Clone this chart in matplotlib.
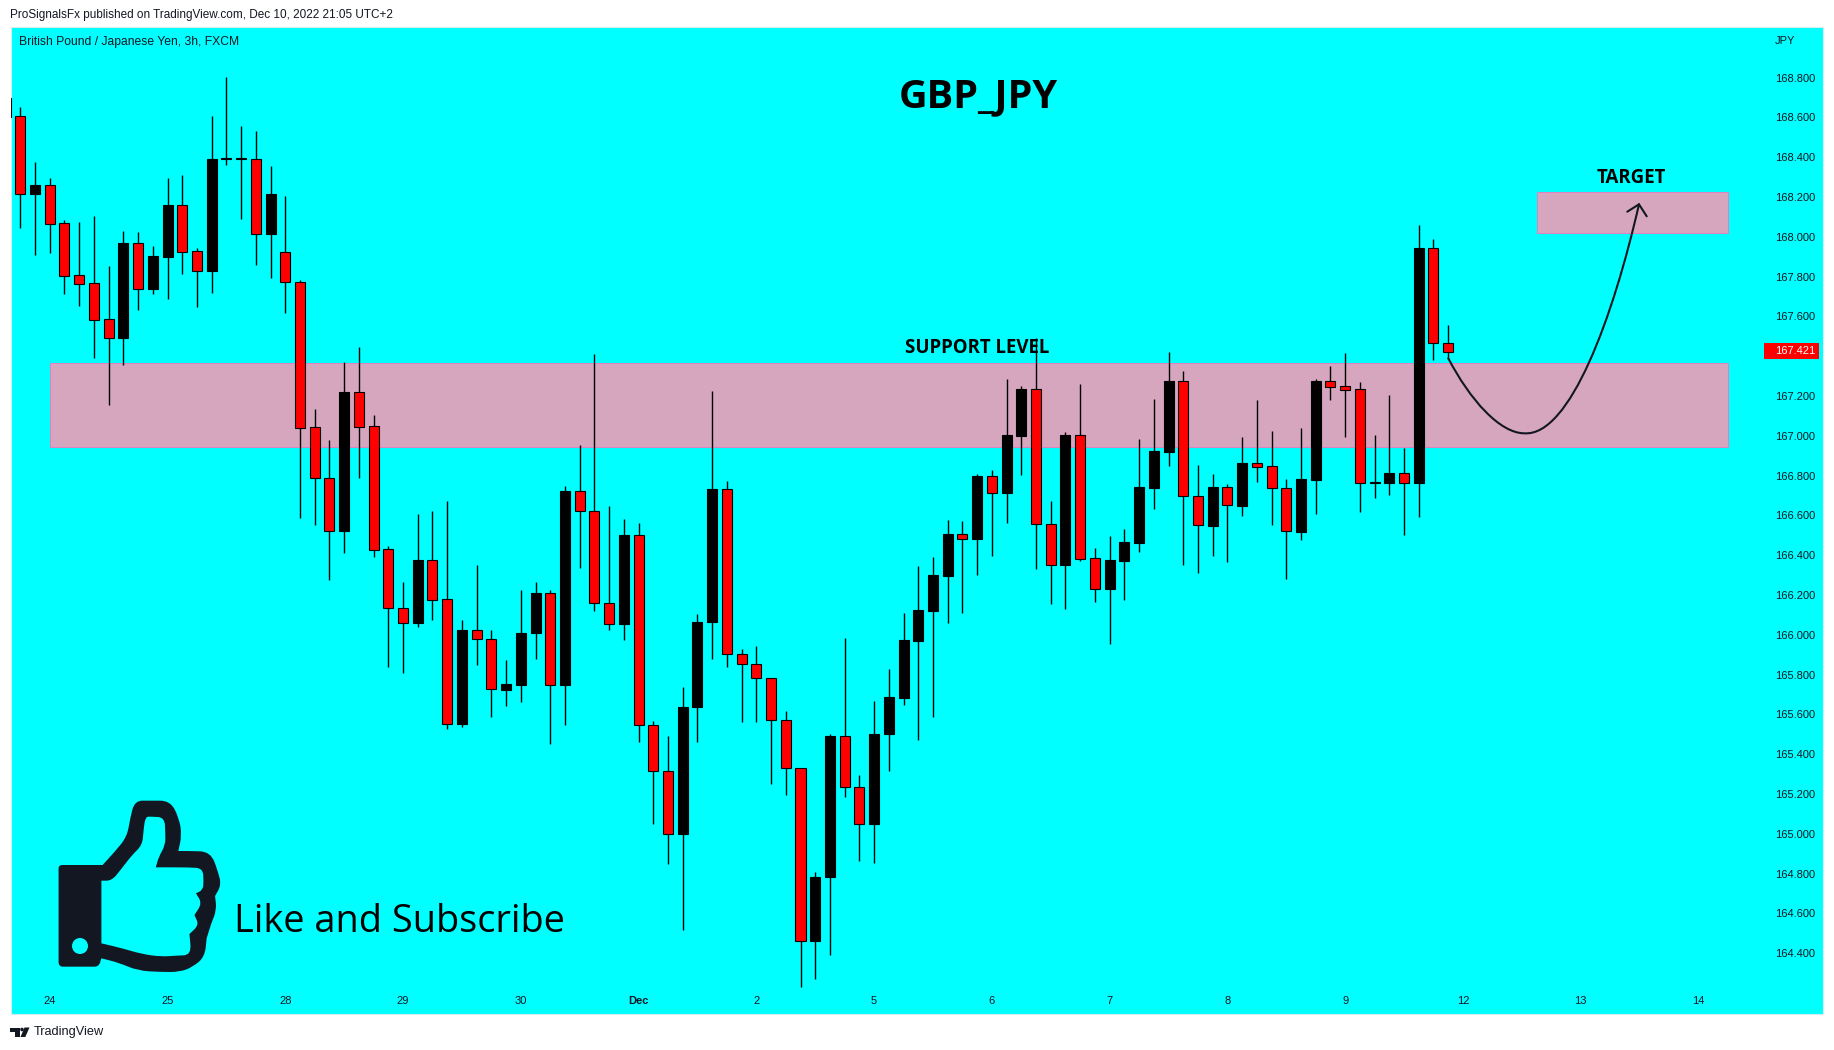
import numpy as np
import matplotlib
matplotlib.use("Agg")
import matplotlib.pyplot as plt
from matplotlib.patches import PathPatch, Ellipse, Polygon, Rectangle
from matplotlib.path import Path
from matplotlib.transforms import Affine2D

W, H = 1834, 1050

# velas de 3h
opens = [168.695, 168.605, 168.216, 168.258, 168.067, 167.806, 167.766, 167.585, 167.492, 167.971,
         167.739, 167.899, 168.157, 167.926, 167.829, 168.389, 168.389, 168.389, 168.012, 167.921,
         167.771, 167.042, 166.786, 166.523, 167.218, 167.047, 166.429, 166.133, 166.060, 166.375,
         166.178, 165.553, 166.022, 165.981, 165.723, 165.749, 166.011, 166.212, 165.749, 166.720,
         166.620, 166.157, 166.055, 166.500, 165.544, 165.317, 165.000, 165.639, 166.066, 166.730,
         165.905, 165.855, 165.781, 165.569, 165.328, 164.459, 164.780, 165.491, 165.233, 165.051,
         165.501, 165.682, 165.970, 166.121, 166.297, 166.504, 166.482, 166.796, 166.714, 166.998,
         167.233, 166.554, 166.352, 167.002, 166.384, 166.231, 166.372, 166.462, 166.739, 166.920,
         167.273, 166.695, 166.548, 166.740, 166.648, 166.861, 166.846, 166.735, 166.518, 166.779,
         167.273, 167.248, 167.233, 166.760, 166.760, 166.811, 166.764, 167.941, 167.467]
closes = [168.603, 168.216, 168.258, 168.065, 167.804, 167.764, 167.583, 167.492, 167.971, 167.739,
          167.901, 168.157, 167.925, 167.829, 168.389, 168.394, 168.394, 168.012, 168.213, 167.771,
          167.040, 166.786, 166.523, 167.218, 167.045, 166.427, 166.133, 166.060, 166.375, 166.176,
          165.553, 166.024, 165.980, 165.725, 165.751, 166.011, 166.212, 165.749, 166.720, 166.620,
          166.157, 166.055, 166.500, 165.544, 165.317, 165.000, 165.639, 166.066, 166.730, 165.905,
          165.855, 165.781, 165.569, 165.328, 164.459, 164.780, 165.491, 165.233, 165.051, 165.503,
          165.687, 165.972, 166.122, 166.298, 166.504, 166.482, 166.797, 166.714, 167.002, 167.233,
          166.554, 166.352, 167.002, 166.382, 166.231, 166.374, 166.464, 166.740, 166.921, 167.273,
          166.695, 166.549, 166.740, 166.650, 166.861, 166.844, 166.735, 166.519, 166.781, 167.273,
          167.246, 167.231, 166.764, 166.767, 166.811, 166.764, 167.941, 167.467, 167.422]
highs = [168.695, 168.652, 168.375, 168.295, 168.082, 168.074, 168.104, 167.853, 168.027, 168.023,
         167.953, 168.295, 168.310, 167.943, 168.606, 168.802, 168.556, 168.531, 168.355, 168.204,
         167.781, 167.134, 166.978, 167.369, 167.446, 167.104, 166.446, 166.265, 166.606, 166.620,
         166.670, 166.074, 166.350, 166.024, 165.874, 166.223, 166.263, 166.223, 166.745, 166.952,
         167.409, 166.646, 166.580, 166.559, 165.565, 165.489, 165.736, 166.106, 167.227, 166.775,
         165.926, 165.941, 165.785, 165.616, 165.328, 164.806, 165.499, 165.984, 165.294, 165.666,
         165.827, 166.107, 166.343, 166.389, 166.575, 166.570, 166.806, 166.826, 167.283, 167.250,
         167.489, 166.670, 167.017, 167.260, 166.434, 166.496, 166.529, 166.982, 167.183, 167.419,
         167.323, 166.853, 166.806, 166.755, 166.992, 167.178, 167.022, 166.781, 167.037, 167.283,
         167.348, 167.414, 167.268, 167.002, 167.203, 166.936, 168.057, 167.987, 167.554]
lows = [168.603, 168.045, 167.910, 167.920, 167.714, 167.653, 167.392, 167.156, 167.357, 167.633,
        167.714, 167.688, 167.814, 167.648, 167.719, 168.362, 168.090, 167.859, 167.794, 167.618,
        166.588, 166.553, 166.276, 166.412, 166.789, 166.392, 165.839, 165.809, 166.040, 166.075,
        165.528, 165.538, 165.848, 165.588, 165.643, 165.660, 165.880, 165.453, 165.544, 166.333,
        166.117, 166.022, 165.971, 165.463, 165.047, 164.850, 164.514, 165.459, 165.876, 165.836,
        165.563, 165.563, 165.252, 165.197, 164.232, 164.268, 164.393, 165.186, 164.865, 164.854,
        165.317, 165.647, 165.471, 165.588, 166.060, 166.111, 166.302, 166.397, 166.563, 166.804,
        166.332, 166.156, 166.131, 166.372, 166.166, 165.955, 166.176, 166.417, 166.632, 166.849,
        166.352, 166.312, 166.397, 166.367, 166.598, 166.769, 166.553, 166.281, 166.477, 166.608,
        167.181, 166.995, 166.618, 166.689, 166.704, 166.503, 166.593, 167.380, 167.385]

date_pos = [2, 10, 18, 26, 34, 42, 50, 58, 66, 74, 82, 90, 98, 106, 114]
date_labels = ["24", "25", "28", "29", "30", "Dec", "2", "5", "6", "7", "8", "9", "12", "13", "14"]
# 167.400 queda tapado por la etiqueta del ultimo precio
price_ticks = [164.4, 164.6, 164.8, 165.0, 165.2, 165.4, 165.6, 165.8, 166.0, 166.2, 166.4, 166.6,
               166.8, 167.0, 167.2, 167.6, 167.8, 168.0, 168.2, 168.4, 168.6, 168.8]
last_price = 167.421

CYAN = "#00ffff"
DARK = "#131722"
BAND = "#d6a6bf"
BAND_EDGE = "#e080c0"

plt.rcParams["font.family"] = ["Open Sans", "DejaVu Sans"]

fig = plt.figure(figsize=(W / 100, H / 100), dpi=100, facecolor="white")
left, right, top, bottom = 10.5, 1823, 27, 1014
ax = fig.add_axes([left / W, 1 - bottom / H, (right - left) / W, (bottom - top) / H], facecolor=CYAN)

# transformacion en pixeles de la imagen (y hacia abajo) para las anotaciones
px = Affine2D().scale(1 / W, -1 / H).translate(0, 1) + fig.transFigure

x = np.arange(-1, len(opens) - 1)
o, c, h, l = map(np.array, (opens, closes, highs, lows))
colors = np.where(c >= o, "black", "#ff0000")

# zonas
ax.add_patch(Rectangle((2, 166.945), 114, 0.419, fc=BAND, ec=BAND_EDGE, lw=0.7, zorder=1))
ax.add_patch(Rectangle((103, 168.017), 13, 0.206, fc=BAND, ec=BAND_EDGE, lw=0.7, zorder=1))

ax.vlines(x, l, h, color="black", lw=1.0, zorder=2)
ax.bar(x, np.abs(c - o), bottom=np.minimum(o, c), width=0.68, color=colors, edgecolor="black", lw=0.8, zorder=3)

ax.set_xlim(-0.666, 122.46)
ax.set_ylim(164.094, 169.054)
ax.set_xticks(date_pos)
ax.set_xticklabels(date_labels, fontsize=8, color=DARK, family=["Liberation Sans"])
ax.get_xticklabels()[5].set_fontweight("bold")
ax.tick_params(axis="x", length=0, pad=-13)
ax.yaxis.tick_right()
ax.set_yticks(price_ticks)
ax.set_yticklabels([f"{p:.3f}" for p in price_ticks], fontsize=8, color=DARK, family=["Liberation Sans"])
ax.tick_params(axis="y", length=0, pad=-34.6)
for s in ax.spines.values():
    s.set_color("#d4eef0")
    s.set_linewidth(0.8)


def pxtext(xp, yp, s, **kw):
    kw.setdefault("va", "center")
    kw.setdefault("color", DARK)
    fig.text(xp, yp, s, transform=px, **kw)


pxtext(10, 14.7, "ProSignalsFx published on TradingView.com, Dec 10, 2022 21:05 UTC+2",
       fontsize=8.45, family=["Liberation Sans"])
pxtext(18.7, 42, "British Pound / Japanese Yen, 3h, FXCM", fontsize=8.7, family=["Liberation Sans"])
pxtext(1775, 40.7, "JPY", fontsize=8, family=["Liberation Sans"])
pxtext(978, 97, "GBP_JPY", fontsize=28.5, color="black", weight="bold", ha="center")
pxtext(977.5, 348, "SUPPORT LEVEL", fontsize=13.4, color="black", weight="bold", ha="center", zorder=1)
pxtext(1631, 178, "TARGET", fontsize=13.4, color="black", weight="bold", ha="center")
pxtext(234, 922, "Like and Subscribe", fontsize=27.3, color="black")
pxtext(33.7, 1032, "TradingView", fontsize=9.2, family=["Liberation Sans"])

# etiqueta del ultimo precio
fig.add_artist(Rectangle((1764, 343), 55, 16, fc="#ff0000", ec="none", transform=px))
pxtext(1775, 351.5, f"{last_price:.3f}", fontsize=8, color="white", family=["Liberation Sans"])

# curva hacia el objetivo
curve = Path(
    [(1448.3, 358.3), (1470, 400), (1500, 433.3), (1524.3, 433.3),
     (1570, 436.7), (1613.3, 316.7), (1639, 204.3)],
    [Path.MOVETO, Path.CURVE4, Path.CURVE4, Path.CURVE4, Path.CURVE4, Path.CURVE4, Path.CURVE4],
)
fig.add_artist(PathPatch(curve, fc="none", ec=DARK, lw=1.5, transform=px, capstyle="round"))
head = Path([(1627.3, 211.7), (1639, 204.3), (1646.7, 216.3)], [Path.MOVETO, Path.LINETO, Path.LINETO])
fig.add_artist(PathPatch(head, fc="none", ec=DARK, lw=1.5, transform=px, capstyle="round", joinstyle="round"))


def smooth(points):
    # curva cerrada con los puntos como control; un punto repetido queda como esquina
    pts = np.array(points, float) / (2.613, 3.0) + (0, 780)
    nxt = np.roll(pts, -1, axis=0)
    mids = (pts + nxt) / 2
    verts = [mids[-1]]
    codes = [Path.MOVETO]
    for p, m in zip(pts, mids):
        verts += [p, m]
        codes += [Path.CURVE3, Path.CURVE3]
    return Path(verts, codes)


outer = [(153, 275), (153, 255), (175, 255), (268, 255), (268, 255), (300, 215), (332, 170), (340, 115),
         (352, 62), (392, 62), (445, 62), (468, 115), (475, 165), (466, 213), (466, 213), (495, 213),
         (550, 215), (570, 275), (578, 315), (562, 348), (562, 348), (566, 390), (552, 430), (540, 475),
         (540, 475), (535, 530), (505, 560), (470, 576), (420, 576), (360, 572), (310, 548), (265, 535),
         (265, 535), (258, 560), (235, 560), (175, 560), (153, 560), (153, 530)]
inner = [(265, 302), (265, 302), (292, 302), (315, 270), (345, 225), (372, 195), (375, 150), (380, 110),
         (395, 110), (430, 112), (432, 160), (432, 195), (415, 230), (407, 262), (407, 262), (495, 262),
         (530, 265), (532, 305), (530, 330), (512, 340), (512, 340), (528, 370), (508, 405), (508, 405),
         (520, 435), (495, 462), (495, 462), (500, 525), (460, 527), (420, 530), (370, 522), (320, 505),
         (265, 490), (265, 490)]
fig.add_artist(PathPatch(smooth(outer), fc=DARK, ec="none", transform=px))
fig.add_artist(PathPatch(smooth(inner), fc=CYAN, ec="none", transform=px))
fig.add_artist(Ellipse((80, 946), 16, 16, fc=CYAN, ec="none", transform=px))

# logo de TradingView
fig.add_artist(Polygon([(10.3, 1027.5), (20, 1027.5), (20, 1037), (15.3, 1037), (15.3, 1031.5), (10.3, 1031.5)],
                       fc=DARK, ec="none", transform=px))
fig.add_artist(Polygon([(24.5, 1027.5), (29.5, 1027.5), (25.3, 1037), (20.5, 1037)], fc=DARK, ec="none", transform=px))
fig.add_artist(Ellipse((22, 1029.5), 3.6, 3.6, fc=DARK, ec="none", transform=px))

fig.savefig("out.png", dpi=100, facecolor="white")
